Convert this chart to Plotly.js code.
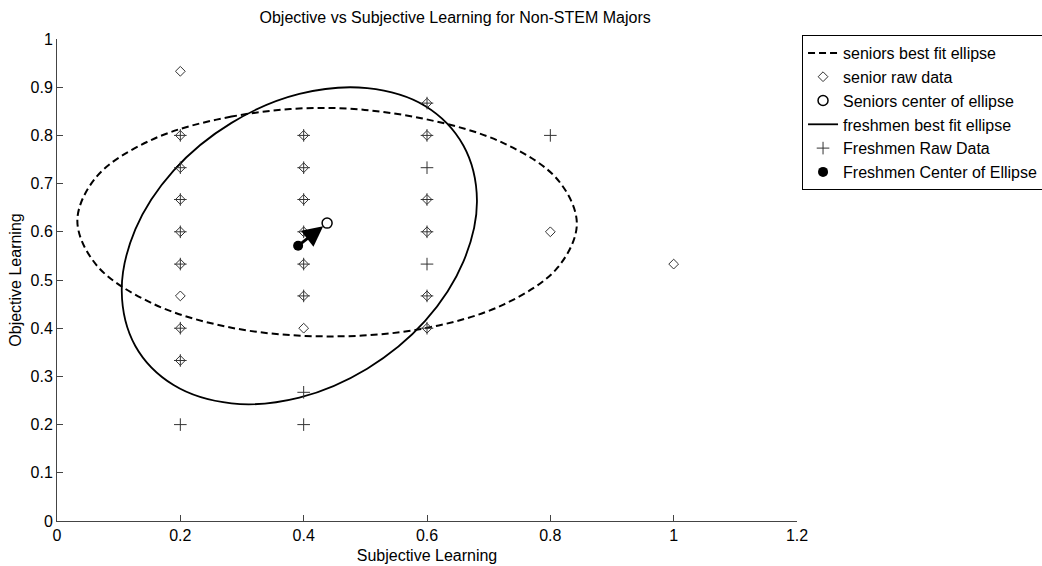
<!DOCTYPE html>
<html>
<head>
<meta charset="utf-8">
<script src="https://cdn.plot.ly/plotly-3.0.1.min.js"></script>
<style>html,body{margin:0;padding:0;background:#fff;}#chart{width:1042px;height:566px;}</style>
</head>
<body>
<div id="chart"></div>
<script>
// Senior raw data (diamonds)
const seniorX = [0.2,0.2,0.2,0.2,0.2,0.2,0.2,0.2,0.2, 0.4,0.4,0.4,0.4,0.4,0.4,0.4, 0.6,0.6,0.6,0.6,0.6,0.6, 0.8, 1.0];
const seniorY = [0.933,0.8,0.733,0.667,0.6,0.533,0.467,0.4,0.333, 0.8,0.733,0.667,0.6,0.533,0.467,0.4, 0.867,0.8,0.667,0.6,0.467,0.4, 0.6, 0.533];

// Freshmen raw data (plus)
const freshX = [0.2,0.2,0.2,0.2,0.2,0.2,0.2,0.2, 0.4,0.4,0.4,0.4,0.4,0.4,0.4,0.4, 0.6,0.6,0.6,0.6,0.6,0.6,0.6,0.6, 0.8];
const freshY = [0.8,0.733,0.667,0.6,0.533,0.4,0.333,0.2, 0.8,0.733,0.667,0.6,0.533,0.467,0.267,0.2, 0.867,0.8,0.733,0.667,0.6,0.533,0.467,0.4, 0.8];

// Ellipse centers
const seniorCenterX = [0.438];
const seniorCenterY = [0.618];
const freshCenterX = [0.391];
const freshCenterY = [0.571];

// Best fit ellipse outlines
const seniorEllX = [0.438,0.283,0.152,0.064,0.033,0.064,0.152,0.283,0.438,0.593,0.724,0.812,0.843,0.812,0.724,0.593,0.438];
const seniorEllY = [0.857,0.839,0.790,0.714,0.623,0.531,0.453,0.401,0.383,0.399,0.449,0.526,0.617,0.708,0.784,0.835,0.857];
const freshEllX = [0.681,0.659,0.597,0.503,0.393,0.283,0.189,0.127,0.105,0.127,0.189,0.283,0.393,0.503,0.597,0.659,0.681];
const freshEllY = [0.665,0.779,0.861,0.898,0.886,0.826,0.727,0.605,0.477,0.363,0.282,0.244,0.256,0.316,0.415,0.538,0.665];

// Labels
const chartTitle = 'Objective vs Subjective Learning for Non-STEM Majors';
const xLabel = 'Subjective Learning';
const yLabel = 'Objective Learning';
const names = ['seniors best fit ellipse','senior raw data','Seniors center of ellipse','freshmen best fit ellipse','Freshmen Raw Data','Freshmen Center of Ellipse'];

const FONT = 'Liberation Sans, Arial, sans-serif';
const FS = 16;

const traces = [
  {x: seniorEllX, y: seniorEllY, mode: 'lines', name: names[0],
   line: {color: '#000', width: 2, dash: '7px,4px', shape: 'spline', smoothing: 1}},
  {x: seniorX, y: seniorY, mode: 'markers', name: names[1],
   marker: {symbol: 'diamond-open', size: 7.5, color: '#333', line: {width: 1, color: '#333'}}},
  {x: seniorCenterX, y: seniorCenterY, mode: 'markers', name: names[2],
   marker: {symbol: 'circle-open', size: 10, color: '#000', line: {width: 1.5, color: '#000'}}},
  {x: freshEllX, y: freshEllY, mode: 'lines', name: names[3],
   line: {color: '#000', width: 1.8, shape: 'spline', smoothing: 1}},
  {x: freshX, y: freshY, mode: 'markers', name: names[4],
   marker: {symbol: 'cross-thin-open', size: 9, color: '#333', line: {width: 1, color: '#333'}}},
  {x: freshCenterX, y: freshCenterY, mode: 'markers', name: names[5],
   marker: {symbol: 'circle', size: 10, color: '#000'}}
];

const layout = {
  width: 1042, height: 566,
  margin: {l: 57, r: 245, t: 39, b: 45, autoexpand: false},
  paper_bgcolor: '#fff', plot_bgcolor: '#fff',
  font: {family: FONT, size: FS, color: '#000'},
  title: {text: chartTitle, font: {family: FONT, size: FS, color: '#000'},
          xref: 'paper', x: 0.538, xanchor: 'center', yref: 'container', y: 0.97, yanchor: 'middle'},
  xaxis: {range: [0, 1.2], tick0: 0, dtick: 0.2, ticks: 'inside', ticklen: 6, tickcolor: '#444',
          showline: true, linecolor: '#444', linewidth: 1, showgrid: false, zeroline: false,
          tickfont: {family: FONT, size: FS, color: '#000'},
          title: {text: xLabel, font: {family: FONT, size: FS, color: '#000'}, standoff: 6}},
  yaxis: {range: [0, 1], tick0: 0, dtick: 0.1, ticks: 'inside', ticklen: 6, tickcolor: '#444',
          showline: true, linecolor: '#444', linewidth: 1, showgrid: false, zeroline: false,
          tickfont: {family: FONT, size: FS, color: '#000'},
          title: {text: yLabel, font: {family: FONT, size: FS, color: '#000'}, standoff: 4}},
  legend: {x: 1.0068, y: 1.0083, xanchor: 'left', yanchor: 'top', bordercolor: '#000', borderwidth: 1,
           bgcolor: '#fff', font: {family: FONT, size: FS, color: '#000'}},
  annotations: [{
    x: seniorCenterX[0], y: seniorCenterY[0], ax: freshCenterX[0], ay: freshCenterY[0],
    xref: 'x', yref: 'y', axref: 'x', ayref: 'y', text: '', showarrow: true,
    arrowhead: 2, arrowsize: 1.35, arrowwidth: 3, arrowcolor: '#000', standoff: 5, startstandoff: 2
  }],
  showlegend: true
};

Plotly.newPlot('chart', traces, layout, {displayModeBar: false, staticPlot: true});
</script>
</body>
</html>
